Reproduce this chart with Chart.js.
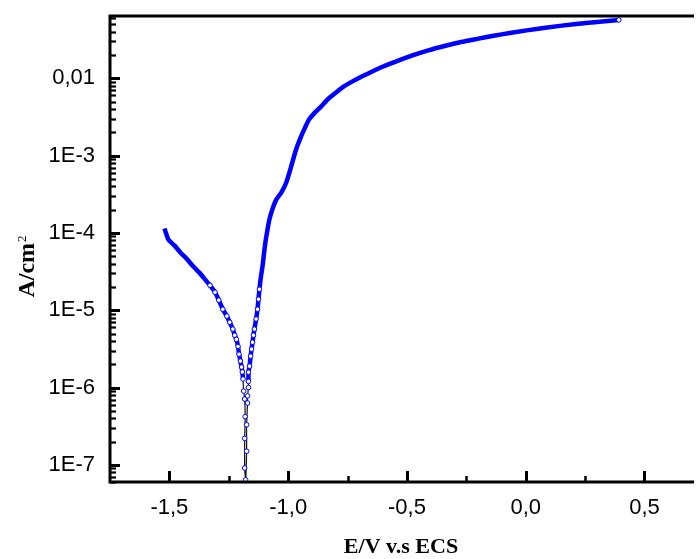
<!DOCTYPE html>
<html><head><meta charset="utf-8">
<script src="https://cdn.jsdelivr.net/npm/chart.js@4/dist/chart.umd.min.js"></script>
<style>html,body{margin:0;padding:0;background:#fff;overflow:hidden}canvas{display:block}</style>
</head><body>
<canvas id="c" width="697" height="559"></canvas>
<script>
// Potential (V vs ECS) and current density (A/cm2)
const potentialE = [
 -1.521,-1.5125,-1.504,-1.479,-1.454,-1.425,-1.400,-1.375,-1.350,-1.329,-1.308,-1.292,-1.275,-1.258,-1.246,-1.233,-1.225,-1.218,-1.211,-1.207,-1.201,-1.196,-1.193,-1.190,-1.1875,-1.183,
 -1.181,-1.183,-1.183,-1.179,-1.175,-1.175,-1.171,-1.171,-1.167,-1.167,
 -1.167,-1.1625,-1.158,-1.154,-1.150,-1.146,-1.142,-1.135,-1.129,-1.125,-1.121,-1.115,-1.108,-1.102,-1.096,-1.0875,-1.079,-1.067,-1.050,-1.029,-1.008,-0.9875,-0.967,-0.946,-0.929,-0.9125,-0.888,-0.8625,-0.832,-0.800,-0.767,-0.733,-0.692,-0.650,-0.600,-0.550,-0.483,-0.410,-0.342,-0.272,-0.204,-0.135,-0.067,0.075,0.2125,0.300,0.392
];
const currentDensity = [
 1.14e-4,9.6e-5,8.2e-5,6.9e-5,5.6e-5,4.55e-5,3.7e-5,3.09e-5,2.51e-5,2.1e-5,1.71e-5,1.35e-5,1.03e-5,8.4e-6,7.0e-6,5.7e-6,4.75e-6,4.2e-6,3.4e-6,2.7e-6,2.2e-6,1.84e-6,1.59e-6,1.29e-6,9.0e-7,7.1e-7,
 4.2e-7,2.2e-7,9.1e-8,6.4e-8,1.5e-7,3.3e-7,6.3e-7,7.8e-7,1.0e-6,1.2e-6,
 1.58e-6,1.89e-6,2.55e-6,3.14e-6,3.86e-6,4.75e-6,5.7e-6,7.7e-6,1.03e-5,1.39e-5,1.87e-5,2.67e-5,3.7e-5,5.3e-5,7.5e-5,1.08e-4,1.49e-4,2.0e-4,2.7e-4,3.33e-4,4.5e-4,7.2e-4,1.19e-3,1.76e-3,2.3e-3,2.92e-3,3.6e-3,4.28e-3,5.4e-3,6.5e-3,7.8e-3,9.0e-3,1.05e-2,1.21e-2,1.42e-2,1.63e-2,1.95e-2,2.3e-2,2.62e-2,2.95e-2,3.24e-2,3.55e-2,3.86e-2,4.49e-2,5.05e-2,5.35e-2,5.69e-2
];
const xTickValues = [-1.5,-1.0,-0.5,0.0,0.5];
const xTickLabels = ['-1,5','-1,0','-0,5','0,0','0,5'];
const xMinorValues = [-1.25,-0.75,-0.25,0.25];
const yTickValues = [1e-7,1e-6,1e-5,1e-4,1e-3,1e-2];
const yTickLabels = ['1E-7','1E-6','1E-5','1E-4','1E-3','0,01'];
const xAxisTitle = 'E/V v.s ECS';
const yAxisTitle = 'A/cm';
const yAxisTitleSup = '2';

const points = potentialE.map((e,i)=>({x:e, y:currentDensity[i]}));
const lastIdx = points.length-1;

function labelFor(vals, labels, v){
  for (let i=0;i<vals.length;i++){ if (Math.abs(vals[i]-v) <= Math.abs(vals[i])*1e-6 + 1e-12) return labels[i]; }
  return '';
}

const framePlugin = {
  id:'frame',
  afterDraw(chart){
    const {ctx, chartArea:a, scales:{x,y}} = chart;
    ctx.save();
    ctx.strokeStyle='#000';
    ctx.lineCap='butt';
    const seg=(x1,y1,x2,y2)=>{ctx.beginPath();ctx.moveTo(x1,y1);ctx.lineTo(x2,y2);ctx.stroke();};
    ctx.lineWidth=3;
    yTickValues.forEach(v=>{const p=Math.round(y.getPixelForValue(v))+0.5; seg(a.left,p,a.left+10,p);});
    ctx.lineWidth=2.2;
    for (let d=-9; d<=0; d++){
      for (let m=2; m<=9; m++){
        const v=m*Math.pow(10,d);
        if (v>y.min && v<y.max){ const p=Math.round(y.getPixelForValue(v))+0.5; seg(a.left,p,a.left+6,p); }
      }
    }
    ctx.lineWidth=3;
    xTickValues.forEach(v=>{const p=Math.round(x.getPixelForValue(v))+0.5; seg(p,a.bottom,p,a.bottom-11);});
    ctx.lineWidth=2.5;
    xMinorValues.forEach(v=>{const p=Math.round(x.getPixelForValue(v))+0.5; seg(p,a.bottom,p,a.bottom-6);});
    ctx.lineWidth=3;
    ctx.beginPath();
    ctx.moveTo(a.right+2,a.top); ctx.lineTo(a.left,a.top); ctx.lineTo(a.left,a.bottom); ctx.lineTo(a.right+2,a.bottom);
    ctx.stroke();
    ctx.fillStyle='#000';
    ctx.translate(27,267);
    ctx.rotate(-Math.PI/2);
    ctx.font='bold 24px "Liberation Serif", "Times New Roman", serif';
    const w1=ctx.measureText(yAxisTitle).width;
    ctx.font='13px "Liberation Serif", "Times New Roman", serif';
    const w2=ctx.measureText(yAxisTitleSup).width;
    const start=-(w1+w2)/2;
    ctx.textBaseline='alphabetic';
    ctx.textAlign='left';
    ctx.font='bold 24px "Liberation Serif", "Times New Roman", serif';
    ctx.fillText(yAxisTitle,start,7);
    ctx.font='13px "Liberation Serif", "Times New Roman", serif';
    ctx.fillText(yAxisTitleSup,start+w1+1,-1);
    ctx.restore();
  }
};

const isLow = v => v < 1.3e-6;

new Chart(document.getElementById('c'), {
  type:'line',
  data:{datasets:[{
    data:points,
    borderColor:'#0000ff',
    borderWidth:4.5,
    tension:0.2,
    pointRadius: c => (c.raw && (c.raw.y < 2.2e-5 || c.dataIndex===lastIdx)) ? 2.3 : 0,
    pointBorderWidth:1,
    pointBorderColor:'#0000ff',
    pointBackgroundColor:'#ffffff',
    segment:{
      borderColor: c => (isLow(c.p0.parsed.y) && isLow(c.p1.parsed.y)) ? '#111111' : '#0000ff',
      borderWidth: c => (isLow(c.p0.parsed.y) && isLow(c.p1.parsed.y)) ? 1.2 : 4.5
    }
  }]},
  options:{
    responsive:false,
    animation:false,
    devicePixelRatio:1,
    events:[],
    layout:{padding:{top:16,right:0,bottom:0,left:0}},
    plugins:{legend:{display:false},tooltip:{enabled:false}},
    scales:{
      x:{
        type:'linear', min:-1.75, max:0.7,
        grid:{display:false, drawTicks:false}, border:{display:false},
        afterBuildTicks: s => { s.ticks = xTickValues.map(v=>({value:v})); },
        afterFit: s => { s.height = 77; s.paddingLeft = 0; s.paddingRight = 0; s.paddingTop = 0; s.paddingBottom = 0; },
        ticks:{ padding:13, color:'#000', font:{family:'"Liberation Sans", Arial, sans-serif', size:22},
          maxRotation:0, autoSkip:false,
          callback: v => labelFor(xTickValues, xTickLabels, v) },
        title:{display:true, text:xAxisTitle, color:'#000', padding:{top:0,bottom:-2},
          font:{family:'"Liberation Serif", "Times New Roman", serif', size:22, weight:'bold'}}
      },
      y:{
        type:'logarithmic', min:6.22e-8, max:0.064,
        grid:{display:false, drawTicks:false}, border:{display:false},
        afterBuildTicks: s => { s.ticks = yTickValues.map(v=>({value:v})); },
        afterFit: s => { s.width = 110; s.paddingTop = 0; s.paddingBottom = 0; s.paddingLeft = 0; s.paddingRight = 0; },
        ticks:{ padding:15, color:'#000', font:{family:'"Liberation Sans", Arial, sans-serif', size:22},
          autoSkip:false,
          callback: v => labelFor(yTickValues, yTickLabels, v) },
        title:{display:false}
      }
    }
  },
  plugins:[framePlugin]
});
</script>
</body></html>
